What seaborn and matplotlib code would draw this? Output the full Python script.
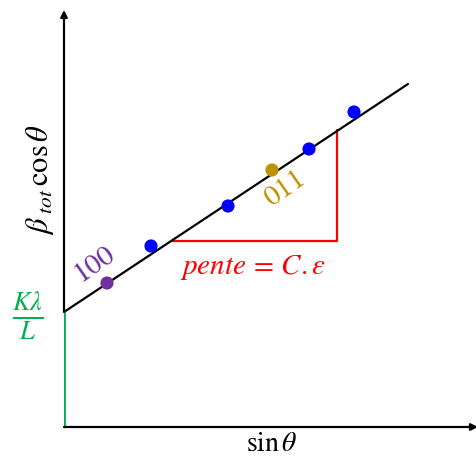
import matplotlib
matplotlib.use("Agg")
import matplotlib.pyplot as plt
import seaborn as sns
import pandas as pd

sns.set_style("white")
plt.rcParams["mathtext.fontset"] = "stix"
plt.rcParams["font.family"] = ["STIXGeneral", "DejaVu Serif"]

# Williamson-Hall style schematic (arbitrary units)
sin_theta = [43, 87, 164, 208, 245, 290]
beta_cos = [144, 181, 221, 257, 278, 315]
peak = ["100", "b", "b", "011", "b", "b"]
peak_colors = {"100": "#7030A0", "b": "#0000FF", "011": "#BF9000"}

fit_x = [0, 344]
fit_y = [115, 343]
intercept = 115
slope_run = [108, 273]
slope_rise = [186, 297]

df = pd.DataFrame({"x": sin_theta, "y": beta_cos, "peak": peak})
fit = pd.DataFrame({"x": fit_x, "y": fit_y})

fig = plt.figure(figsize=(4.77, 4.57), dpi=100)
ax = fig.add_axes([64 / 477, 1 - 427 / 457, 412 / 477, 415 / 457])
ax.set_xlim(0, 412)
ax.set_ylim(0, 415)
ax.axis("off")

sns.lineplot(data=fit, x="x", y="y", color="black", lw=1.6, ax=ax, zorder=2)
ax.plot([slope_run[0], slope_run[1], slope_run[1]],
        [slope_rise[0], slope_rise[0], slope_rise[1]], color="red", lw=1.6, zorder=1)
ax.plot([0, 0], [0, intercept], color="#00B050", lw=2.0, zorder=3)
sns.scatterplot(data=df, x="x", y="y", hue="peak", palette=peak_colors,
                s=90, edgecolor="none", legend=False, ax=ax, zorder=4)

# Axes with arrowheads
ax.annotate("", xy=(414, 0), xytext=(0, 0), xycoords="data",
            arrowprops=dict(arrowstyle="-|>", color="black", lw=1.6,
                            mutation_scale=10, shrinkA=0, shrinkB=0),
            annotation_clip=False)
ax.annotate("", xy=(0, 417), xytext=(0, intercept), xycoords="data",
            arrowprops=dict(arrowstyle="-|>", color="black", lw=1.6,
                            mutation_scale=10, shrinkA=0, shrinkB=0),
            annotation_clip=False)

ax.text(31, 163, "100", color="#7030A0", fontsize=21, rotation=35,
        ha="center", va="center")
ax.text(221, 238, "011", color="#BF9000", fontsize=21, rotation=35,
        ha="center", va="center")
ax.text(189, 159, r"$pente\,=\,C.\varepsilon$", color="red", fontsize=21,
        ha="center", va="center")
ax.text(-36, 111, r"$\frac{K\lambda}{L}$", color="#00B050", fontsize=27,
        ha="center", va="center")
ax.text(208, -17, r"$\sin\theta$", color="black", fontsize=20,
        ha="center", va="center")
ax.text(-24, 247, r"$\beta_{\ tot}\,\cos\theta$", color="black", fontsize=22,
        rotation=90, ha="center", va="center")

fig.savefig("out.png", dpi=100)
